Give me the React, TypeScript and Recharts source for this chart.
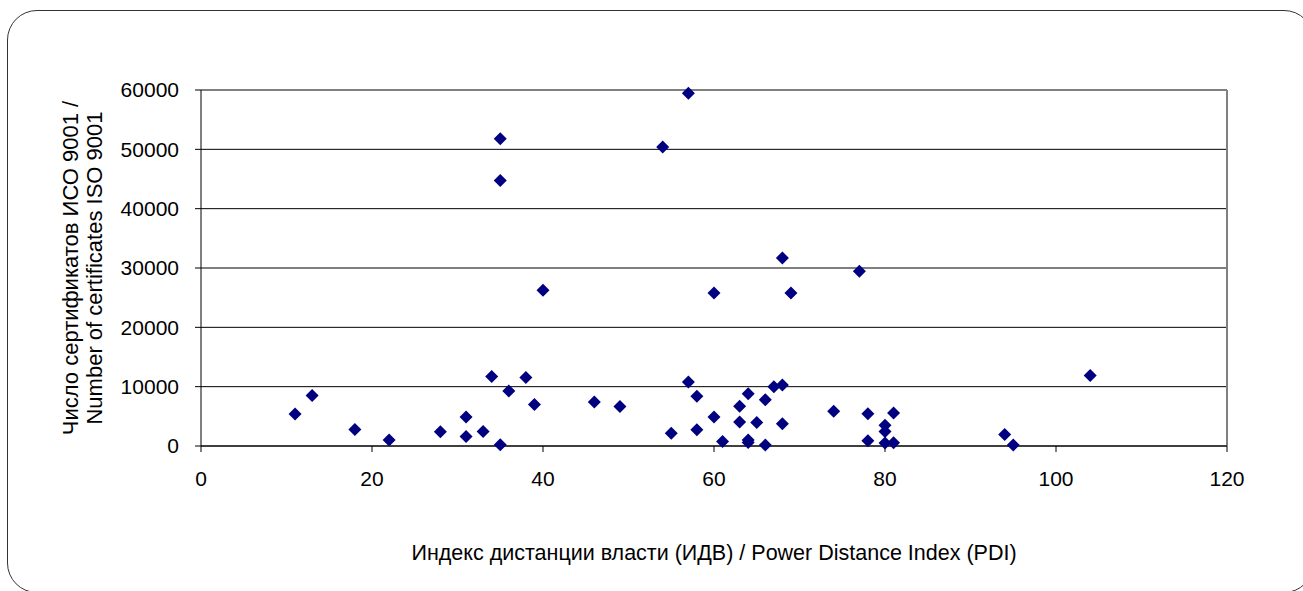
import React from 'react';
import { ScatterChart, Scatter, XAxis, YAxis, CartesianGrid, ReferenceLine, Label } from 'recharts';

const pdi = [11, 13, 18, 22, 28, 31, 31, 33, 34, 35, 36, 38, 39, 46, 49, 55, 57, 58, 58, 60, 61, 63, 63, 64, 64, 64, 65, 66, 66, 67, 68, 68, 74, 78, 78, 80, 80, 80, 81, 81, 94, 95, 104, 35, 35, 54, 57, 40, 60, 68, 69, 77];
const certificates = [5400, 8500, 2800, 1000, 2400, 4900, 1600, 2450, 11700, 200, 9250, 11550, 7000, 7400, 6650, 2150, 10800, 8400, 2750, 4900, 750, 6700, 4050, 8800, 1000, 600, 3950, 7800, 150, 10000, 10300, 3750, 5850, 5450, 900, 3500, 2450, 500, 5550, 550, 1950, 150, 11900, 51800, 44750, 50400, 59450, 26250, 25800, 31700, 25800, 29450];
const xTicks = [0, 20, 40, 60, 80, 100, 120];
const yTicks = [0, 10000, 20000, 30000, 40000, 50000, 60000];
const xTitle = 'Индекс дистанции власти (ИДВ) / Power Distance Index (PDI)';
const yTitleLines = ['Число сертификатов ИСО 9001 /', 'Number of certificates ISO 9001'];

const data = pdi.map((x, i) => ({ x, y: certificates[i] }));

const FONT = '"Liberation Sans", Arial, sans-serif';
const TICK_FS = 21;

const Diamond = (props: any) => {
  const { cx, cy } = props;
  const r = 6.5;
  return <path d={`M${cx},${cy - r}L${cx + r},${cy}L${cx},${cy + r}L${cx - r},${cy}Z`} fill="#000080" />;
};

const YTitle = (props: any) => {
  const vb = props.viewBox || { x: 0, y: 90, width: 201, height: 356 };
  const cy = vb.y + vb.height / 2;
  const xs = [70, 94];
  return (
    <g>
      {yTitleLines.map((t, i) => (
        <text key={i} x={xs[i]} y={cy} transform={`rotate(-90, ${xs[i]}, ${cy})`} textAnchor="middle" dominantBaseline="central" fontSize={22} fontFamily={FONT} fill="#000">{t}</text>
      ))}
    </g>
  );
};

const XTitle = (props: any) => {
  const vb = props.viewBox || { x: 201, y: 446, width: 1026, height: 40 };
  const cx = vb.x + vb.width / 2;
  return (
    <text x={cx} y={553} textAnchor="middle" dominantBaseline="central" fontSize={21.5} fontFamily={FONT} fill="#000">{xTitle}</text>
  );
};

export default function App() {
  return (
    <div style={{ position: 'absolute', left: 0, top: 0, width: 1303, height: 591, overflow: 'hidden', background: '#fff' }}>
      <div style={{ position: 'absolute', left: 7, top: 10, width: 1307, height: 583, border: '1.5px solid #333', borderRadius: 30, boxSizing: 'border-box' }} />
      <div style={{ position: 'absolute', left: 0, top: 0 }}>
        <ScatterChart width={1303} height={591} margin={{ top: 90, right: 76, bottom: 105, left: 0 }}>
          <CartesianGrid horizontal={true} vertical={false} stroke="#000" strokeWidth={1} />
          <XAxis
            type="number"
            dataKey="x"
            domain={[0, 120]}
            ticks={xTicks}
            interval={0}
            height={40}
            tickSize={6}
            tickMargin={19}
            axisLine={{ stroke: '#000' }}
            tickLine={{ stroke: '#000' }}
            tick={{ fill: '#000', fontSize: TICK_FS, fontFamily: FONT }}
          >
            <Label content={<XTitle />} />
          </XAxis>
          <YAxis
            type="number"
            dataKey="y"
            domain={[0, 60000]}
            ticks={yTicks}
            interval={0}
            width={201}
            tickSize={6}
            tickMargin={16}
            axisLine={{ stroke: '#000' }}
            tickLine={{ stroke: '#000' }}
            tick={{ fill: '#000', fontSize: TICK_FS, fontFamily: FONT }}
          >
            <Label content={<YTitle />} />
          </YAxis>
          <ReferenceLine y={60000} stroke="#808080" strokeWidth={2} />
          <ReferenceLine x={120} stroke="#808080" strokeWidth={2} />
          <Scatter data={data} shape={<Diamond />} isAnimationActive={false} />
        </ScatterChart>
      </div>
    </div>
  );
}
